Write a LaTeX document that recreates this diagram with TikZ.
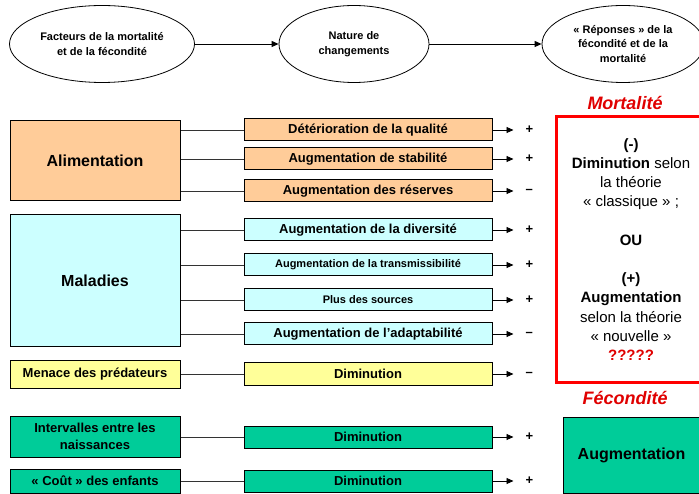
\documentclass[tikz,border=0pt]{standalone}
\usepackage{fontspec}
\setmainfont{Liberation Sans}
\usetikzlibrary{shapes.geometric,arrows.meta,positioning}
\definecolor{peche}{HTML}{FFCC99}
\definecolor{ciel}{HTML}{CCFFFF}
\definecolor{paille}{HTML}{FFFF99}
\definecolor{menthe}{HTML}{00CC99}
\definecolor{rouge}{HTML}{E00000}

\begin{document}
\begin{tikzpicture}[x=1pt,y=-1pt,
	bulle/.style={draw,ellipse,line width=.8pt,minimum width=#1,minimum height=77pt,inner sep=0pt,align=center,font=\bfseries\fontsize{11}{14.5}\selectfont},
	facteur/.style={draw,line width=1pt,minimum width=170pt,inner sep=0pt,align=center,font=\bfseries\fontsize{13}{17}\selectfont},
	chgt/.style={draw,line width=1pt,minimum width=248pt,minimum height=22pt,inner sep=0pt,font=\bfseries\fontsize{13}{15}\selectfont},
	petit/.style={font=\bfseries\fontsize{11}{13}\selectfont},
	signe/.style={right=33pt of #1,inner sep=0pt,font=\bfseries\fontsize{13}{13}\selectfont},
	lien/.style={line width=.9pt,black!80},
	fleche/.style={line width=.9pt,-{Triangle[length=7pt,width=6pt]}},
	titre/.style={text=rouge,font=\bfseries\itshape\fontsize{18}{18}\selectfont}]
	\clip (0,0) rectangle (699,494);
	\fill[white] (0,0) rectangle (699,494);

	\node[bulle=185pt] (e1) at (102,44) {Facteurs de la mortalité\\et de la fécondité};
	\node[bulle=150pt] (e2) at (354,44) {Nature de\\changements};
	\node[bulle=162pt] (e3) at (623,44) {« Réponses » de la\\fécondité et de la\\mortalité};
	\draw[fleche] (e1) -- (e2);
	\draw[fleche] (e2) -- (e3);

	\node[facteur,fill=peche,minimum height=80pt,font=\bfseries\fontsize{16}{18}\selectfont] (alim) at (95,161) {Alimentation};
	\node[facteur,fill=ciel,minimum height=132pt,font=\bfseries\fontsize{16}{18}\selectfont] (mal) at (95,281) {Maladies};
	\node[facteur,fill=paille,minimum height=27pt] (pred) at (95,374.5) {Menace des prédateurs};
	\node[facteur,fill=menthe,minimum height=41pt] (inter) at (95,436.5) {Intervalles entre les\\naissances};
	\node[facteur,fill=menthe,minimum height=24pt] (cout) at (95,481) {« Coût » des enfants};

	\node[chgt,fill=peche] (d1) at (368,130) {Détérioration de la qualité};
	\node[chgt,fill=peche] (d2) at (368,159) {Augmentation de stabilité};
	\node[chgt,fill=peche] (d3) at (368,191) {Augmentation des réserves};
	\node[chgt,fill=ciel] (d4) at (368,230) {Augmentation de la diversité};
	\node[chgt,fill=ciel,petit] (d5) at (368,265) {Augmentation de la transmissibilité};
	\node[chgt,fill=ciel,petit] (d6) at (368,300) {Plus des sources};
	\node[chgt,fill=ciel] (d7) at (368,334) {Augmentation de l’adaptabilité};
	\node[chgt,fill=paille] (d8) at (368,374) {Diminution};
	\node[chgt,fill=menthe] (d9) at (368,437) {Diminution};
	\node[chgt,fill=menthe] (d10) at (368,481) {Diminution};

	\draw[lien] (d1.west) -- (d1.west -| alim.east);
	\draw[lien] (d2.west) -- (d2.west -| alim.east);
	\draw[lien] (d3.west) -- (d3.west -| alim.east);
	\draw[lien] (d4.west) -- (d4.west -| mal.east);
	\draw[lien] (d5.west) -- (d5.west -| mal.east);
	\draw[lien] (d6.west) -- (d6.west -| mal.east);
	\draw[lien] (d7.west) -- (d7.west -| mal.east);
	\draw[lien] (d8.west) -- (d8.west -| pred.east);
	\draw[lien] (d9.west) -- (d9.west -| inter.east);
	\draw[lien] (d10.west) -- (d10.west -| cout.east);

	\node[signe=d1] (s1) {+};
	\node[signe=d2] (s2) {+};
	\node[signe=d3] (s3) {--};
	\node[signe=d4] (s4) {+};
	\node[signe=d5] (s5) {+};
	\node[signe=d6] (s6) {+};
	\node[signe=d7] (s7) {--};
	\node[signe=d8] (s8) {--};
	\node[signe=d9] (s9) {+};
	\node[signe=d10] (s10) {+};
	\foreach \i in {1,...,10}
		\draw[fleche,shorten >=12pt] (d\i) -- (s\i);

	\node[titre] (tmort) at (625,103) {Mortalité};
	\node[draw=red,line width=3pt,minimum width=150pt,minimum height=265pt,inner sep=0pt,align=center,font=\fontsize{15}{19.2}\selectfont] (mort) at (631,249.5)
		{\textbf{(-)}\\\textbf{Diminution} selon\\la théorie\\«~classique~» ;\\[19.2pt]\textbf{OU}\\[19.2pt]\textbf{(+)}\\\textbf{Augmentation}\\selon la théorie\\«~nouvelle~»\\\textcolor{rouge}{\textbf{?????}}};
	\node[titre] (tfec) at (625,398) {Fécondité};
	\node[draw,line width=1pt,fill=menthe,minimum width=137pt,minimum height=76pt,inner sep=0pt,font=\bfseries\fontsize{16}{18}\selectfont] (fec) at (631.5,455) {Augmentation};
\end{tikzpicture}
\end{document}
